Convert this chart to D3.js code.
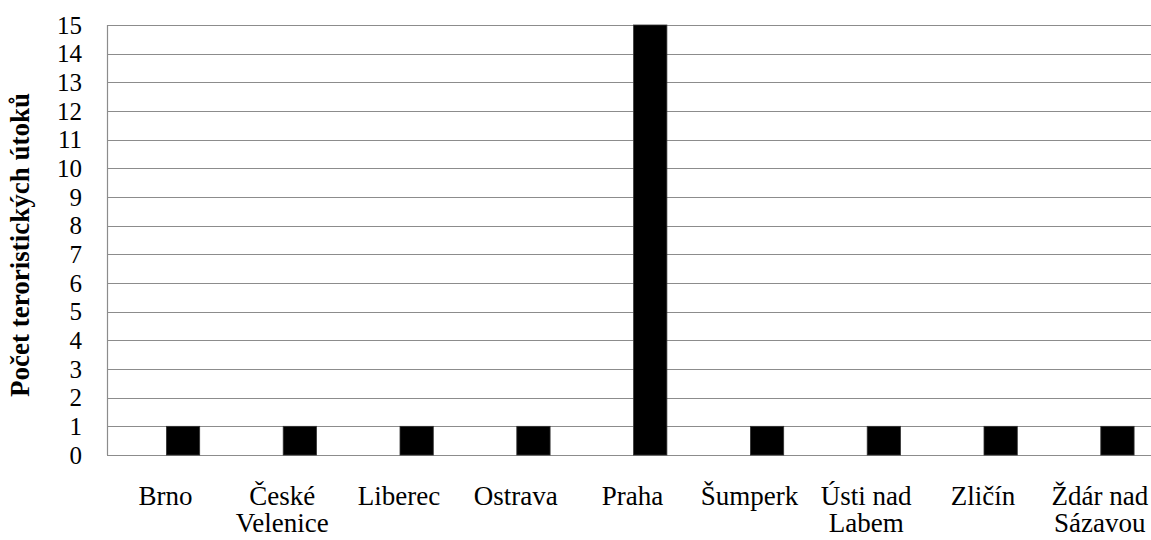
<!DOCTYPE html>
<html><head><meta charset="utf-8">
<script src="https://cdn.jsdelivr.net/npm/d3@7"></script>
<style>body{margin:0;background:#fff}svg{display:block}
svg text{font-family:"Liberation Serif","Times New Roman",Times,serif;fill:#000}</style>
</head><body>
<svg id="c" width="1151" height="540"></svg>
<script>
const categories = [["Brno"],["České","Velenice"],["Liberec"],["Ostrava"],["Praha"],["Šumperk"],["Ústi nad","Labem"],["Zličín"],["Ždár nad","Sázavou"]];
const values = [1,1,1,1,15,1,1,1,1];
const yTicks = d3.range(0,16);
const yTitle = "Počet teroristických útoků";

(function(){
const svg = d3.select("#c");
const mLeft = 107, mTop = 25, mBottom = 455, step = 116.8;
const keys = categories.map(c => c.join(" "));
const x = d3.scaleBand().domain(keys).range([mLeft, mLeft + step*keys.length]).paddingInner(0).paddingOuter(0);
const y = d3.scaleLinear().domain([0,15]).range([mBottom, mTop]);
const barW = x.bandwidth()*0.285;

svg.append("g").selectAll("line").data(yTicks).join("line")
  .attr("x1", mLeft).attr("x2", 1151)
  .attr("y1", d=>Math.round(y(d))+0.5).attr("y2", d=>Math.round(y(d))+0.5)
  .attr("stroke","#8c8c8c").attr("stroke-width",1.2);
svg.append("line").attr("x1",mLeft+0.5).attr("x2",mLeft+0.5).attr("y1",mTop).attr("y2",mBottom)
  .attr("stroke","#8c8c8c").attr("stroke-width",1.2);

svg.append("g").selectAll("rect").data(values).join("rect")
  .attr("x",(d,i)=>x(keys[i]) + x.bandwidth()/2 + 1)
  .attr("width", barW)
  .attr("y", d=>y(d)).attr("height", d=>y(0)-y(d))
  .attr("fill","#000").attr("stroke","#333").attr("stroke-width",0.8);

svg.append("g").selectAll("text").data(yTicks).join("text")
  .attr("x", 82).attr("y", d=>y(d)).attr("dy","0.35em")
  .attr("text-anchor","end")
  .style("font-size","25px")
  .text(d=>d);

const cl = svg.append("g").selectAll("text").data(categories).join("text")
  .attr("x",(d,i)=>x(keys[i])+x.bandwidth()/2)
  .attr("y",505)
  .attr("text-anchor","middle")
  .style("font-size","27px");
cl.selectAll("tspan").data(d=>d).join("tspan")
  .attr("x",function(){return this.parentNode.getAttribute("x");})
  .attr("dy",(d,i)=>i===0?0:27).text(d=>d);

svg.append("text").attr("transform","translate(29,245) rotate(-90)")
  .attr("text-anchor","middle")
  .style("font-size","27px").style("font-weight","bold")
  .text(yTitle);
})();
</script>
</body></html>
